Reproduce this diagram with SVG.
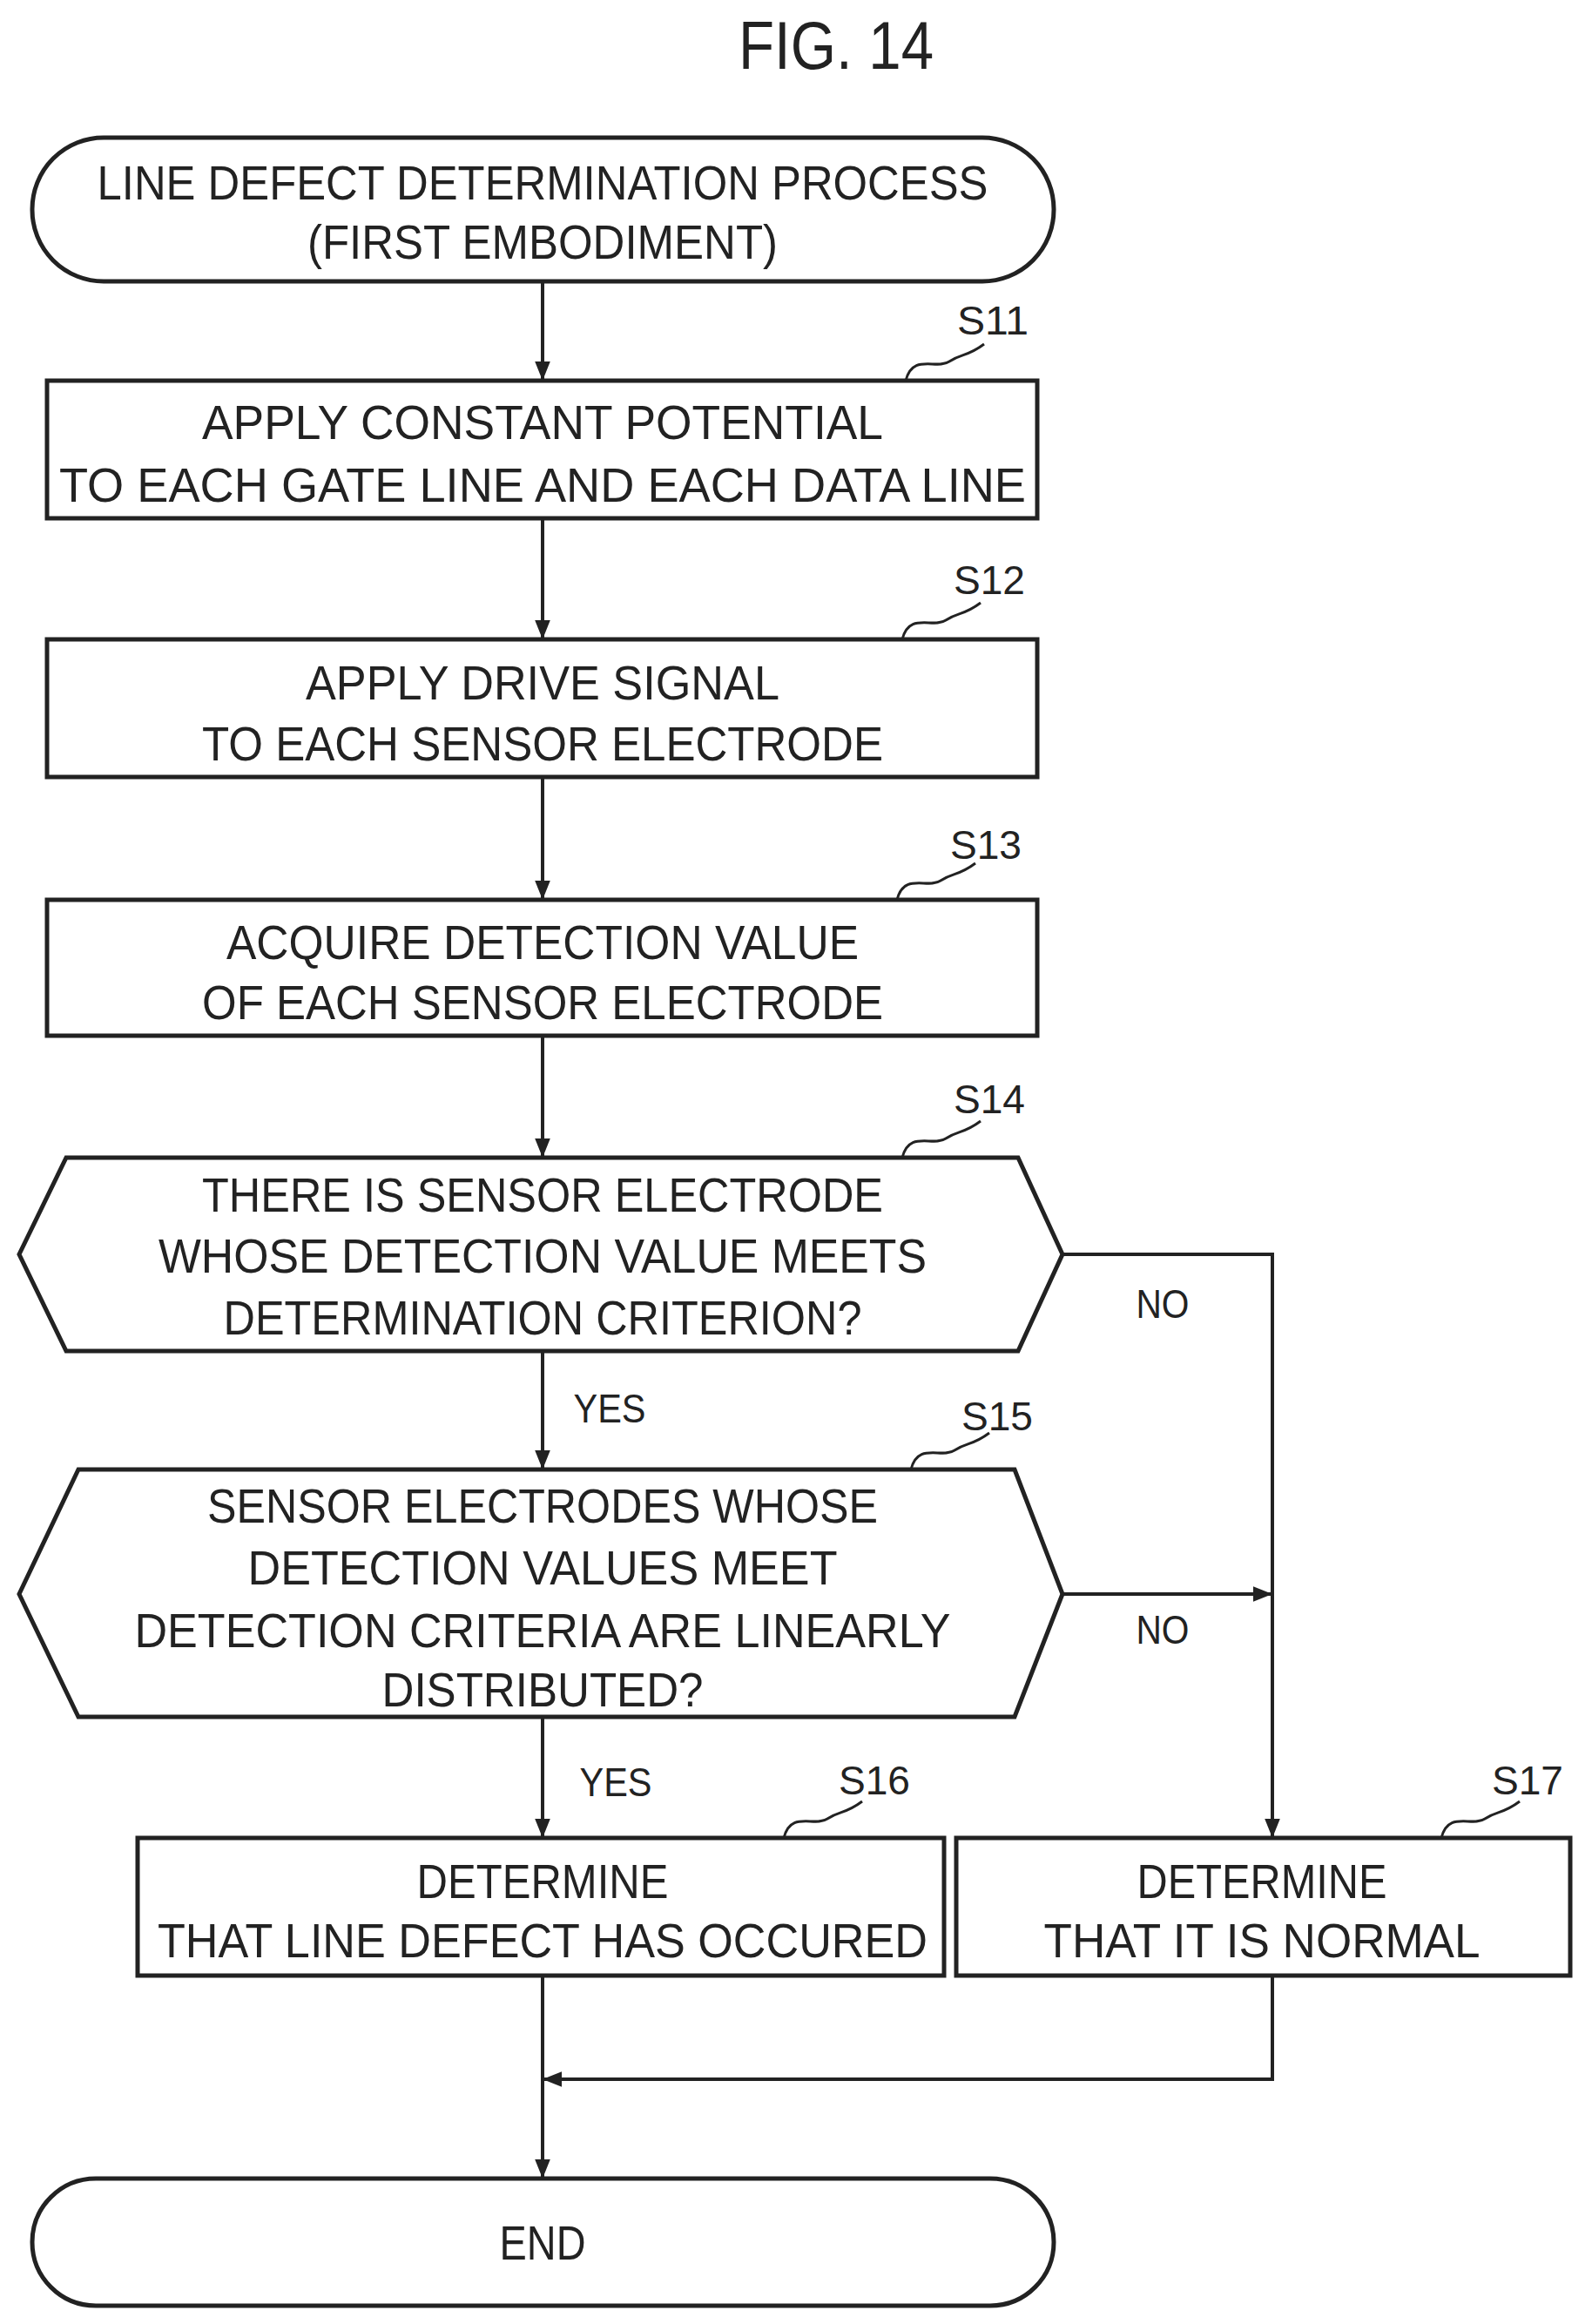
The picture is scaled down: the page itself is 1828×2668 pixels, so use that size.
<svg xmlns="http://www.w3.org/2000/svg" width="1828" height="2668" viewBox="0 0 1828 2668">
<style>
text{font-family:"Liberation Sans",Arial,sans-serif;font-size:56px;fill:#222;text-anchor:middle;dominant-baseline:central}
.lb{font-size:46px}
.sh{fill:#fff;stroke:#222;stroke-width:5}
.cn{fill:none;stroke:#222;stroke-width:4}
.sq{fill:none;stroke:#222;stroke-width:3}
</style>
<defs><marker id="ah" markerWidth="12" markerHeight="12" refX="10" refY="6" orient="auto" markerUnits="userSpaceOnUse"><path d="M0,0 L12,6 L0,12 z" fill="#222"/></marker>
<marker id="a" viewBox="0 0 10 10" refX="10" refY="5" markerWidth="22" markerHeight="22" orient="auto" markerUnits="userSpaceOnUse"><path d="M0,1 L10,5 L0,9 z" fill="#222"/></marker></defs>
<text x="960" y="52" style="font-size:78px" textLength="224" lengthAdjust="spacingAndGlyphs">FIG. 14</text>
<g id="connectors">
<path class="cn" d="M623,323 V437" marker-end="url(#a)"/>
<path class="cn" d="M623,595 V734" marker-end="url(#a)"/>
<path class="cn" d="M623,892 V1033" marker-end="url(#a)"/>
<path class="cn" d="M623,1189 V1329" marker-end="url(#a)"/>
<path class="cn" d="M623,1551 V1687" marker-end="url(#a)"/>
<path class="cn" d="M623,1971 V2110" marker-end="url(#a)"/>
<path class="cn" d="M1220,1440 H1461 V2110" marker-end="url(#a)"/>
<path class="cn" d="M1220,1830 H1461" marker-end="url(#a)"/>
<path class="cn" d="M1461,2268 V2387 H623" marker-end="url(#a)"/>
<path class="cn" d="M623,2268 V2501" marker-end="url(#a)"/>
<text class="lb" x="1335" y="1497" textLength="61" lengthAdjust="spacingAndGlyphs">NO</text>
<text class="lb" x="1335" y="1871" textLength="61" lengthAdjust="spacingAndGlyphs">NO</text>
<text class="lb" x="700" y="1617" textLength="83" lengthAdjust="spacingAndGlyphs">YES</text>
<text class="lb" x="707" y="2046" textLength="83" lengthAdjust="spacingAndGlyphs">YES</text>
</g>
<g id="start">
<rect class="sh" x="37" y="158" width="1173" height="165" rx="82"/>
<text x="623" y="209" textLength="1023" lengthAdjust="spacingAndGlyphs">LINE DEFECT DETERMINATION PROCESS</text>
<text x="623" y="277" textLength="540" lengthAdjust="spacingAndGlyphs">(FIRST EMBODIMENT)</text>
</g>
<g id="s11">
<rect class="sh" x="54" y="437" width="1137" height="158"/>
<text x="623" y="484" textLength="782" lengthAdjust="spacingAndGlyphs">APPLY CONSTANT POTENTIAL</text>
<text x="623" y="556" textLength="1110" lengthAdjust="spacingAndGlyphs">TO EACH GATE LINE AND EACH DATA LINE</text>
<path class="sq" d="M1040,437 C1048,405 1075,425 1090,415 C1105,405 1110,410 1130,395"/>
<text class="lb" x="1140" y="368" textLength="82" lengthAdjust="spacingAndGlyphs">S11</text>
</g>
<g id="s12">
<rect class="sh" x="54" y="734" width="1137" height="158"/>
<text x="623" y="783" textLength="544" lengthAdjust="spacingAndGlyphs">APPLY DRIVE SIGNAL</text>
<text x="623" y="853" textLength="782" lengthAdjust="spacingAndGlyphs">TO EACH SENSOR ELECTRODE</text>
<path class="sq" d="M1036,734 C1044,702 1071,722 1086,712 C1101,702 1106,707 1126,692"/>
<text class="lb" x="1136" y="666" textLength="82" lengthAdjust="spacingAndGlyphs">S12</text>
</g>
<g id="s13">
<rect class="sh" x="54" y="1033" width="1137" height="156"/>
<text x="623" y="1081" textLength="726" lengthAdjust="spacingAndGlyphs">ACQUIRE DETECTION VALUE</text>
<text x="623" y="1150" textLength="782" lengthAdjust="spacingAndGlyphs">OF EACH SENSOR ELECTRODE</text>
<path class="sq" d="M1030,1033 C1038,1001 1065,1021 1080,1011 C1095,1001 1100,1006 1120,991"/>
<text class="lb" x="1132" y="970" textLength="82" lengthAdjust="spacingAndGlyphs">S13</text>
</g>
<g id="s14">
<polygon class="sh" points="22,1440 76,1329 1169,1329 1220,1440 1169,1551 76,1551"/>
<text x="623" y="1371" textLength="782" lengthAdjust="spacingAndGlyphs">THERE IS SENSOR ELECTRODE</text>
<text x="623" y="1441" textLength="882" lengthAdjust="spacingAndGlyphs">WHOSE DETECTION VALUE MEETS</text>
<text x="623" y="1512" textLength="733" lengthAdjust="spacingAndGlyphs">DETERMINATION CRITERION?</text>
<path class="sq" d="M1036,1329 C1044,1297 1071,1317 1086,1307 C1101,1297 1106,1302 1126,1287"/>
<text class="lb" x="1136" y="1262" textLength="82" lengthAdjust="spacingAndGlyphs">S14</text>
</g>
<g id="s15">
<polygon class="sh" points="22,1830 90,1687 1165,1687 1220,1830 1165,1971 90,1971"/>
<text x="623" y="1728" textLength="770" lengthAdjust="spacingAndGlyphs">SENSOR ELECTRODES WHOSE</text>
<text x="623" y="1799" textLength="677" lengthAdjust="spacingAndGlyphs">DETECTION VALUES MEET</text>
<text x="623" y="1871" textLength="937" lengthAdjust="spacingAndGlyphs">DETECTION CRITERIA ARE LINEARLY</text>
<text x="623" y="1939" textLength="369" lengthAdjust="spacingAndGlyphs">DISTRIBUTED?</text>
<path class="sq" d="M1046,1687 C1054,1655 1081,1675 1096,1665 C1111,1655 1116,1660 1136,1645"/>
<text class="lb" x="1145" y="1626" textLength="82" lengthAdjust="spacingAndGlyphs">S15</text>
</g>
<g id="s16">
<rect class="sh" x="158" y="2110" width="926" height="158"/>
<text x="623" y="2159" textLength="289" lengthAdjust="spacingAndGlyphs">DETERMINE</text>
<text x="623" y="2227" textLength="884" lengthAdjust="spacingAndGlyphs">THAT LINE DEFECT HAS OCCURED</text>
<path class="sq" d="M900,2110 C908,2078 935,2098 950,2088 C965,2078 970,2083 990,2068"/>
<text class="lb" x="1004" y="2044" textLength="82" lengthAdjust="spacingAndGlyphs">S16</text>
</g>
<g id="s17">
<rect class="sh" x="1098" y="2110" width="705" height="158"/>
<text x="1449" y="2159" textLength="287" lengthAdjust="spacingAndGlyphs">DETERMINE</text>
<text x="1449" y="2227" textLength="501" lengthAdjust="spacingAndGlyphs">THAT IT IS NORMAL</text>
<path class="sq" d="M1655,2110 C1663,2078 1690,2098 1705,2088 C1720,2078 1725,2083 1745,2068"/>
<text class="lb" x="1754" y="2044" textLength="82" lengthAdjust="spacingAndGlyphs">S17</text>
</g>
<g id="end">
<rect class="sh" x="37" y="2501" width="1173" height="146" rx="73"/>
<text x="623" y="2574" textLength="99" lengthAdjust="spacingAndGlyphs">END</text>
</g>
</svg>
